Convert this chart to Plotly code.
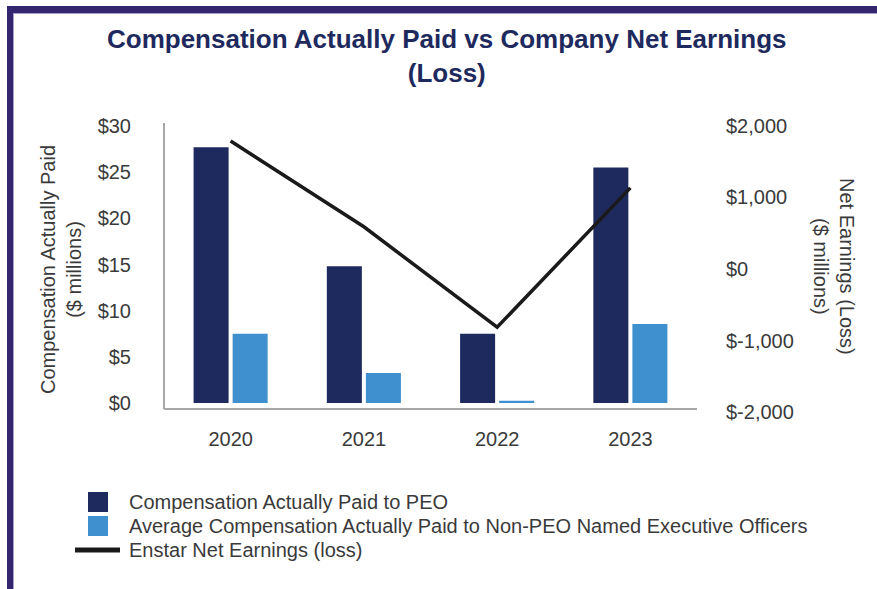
import plotly.graph_objects as go

# Fiscal years and values ($ millions)
years = ["2020", "2021", "2022", "2023"]
cap_peo = [27.7, 14.8, 7.5, 25.5]
cap_neo_avg = [7.5, 3.25, 0.25, 8.55]
net_earnings = [1790, 590, -815, 1135]

left_ticks = [0, 5, 10, 15, 20, 25, 30]
left_tick_text = ["$0", "$5", "$10", "$15", "$20", "$25", "$30"]
right_ticks = [-2000, -1000, 0, 1000, 2000]
right_tick_text = ["$-2,000", "$-1,000", "$0", "$1,000", "$2,000"]

series_names = [
    "Compensation Actually Paid to PEO",
    "Average Compensation Actually Paid to Non-PEO Named Executive Officers",
    "Enstar Net Earnings (loss)",
]

FONT = "Liberation Sans, Arial, Helvetica, sans-serif"
NAVY = "#1e2a5e"
LIGHT_BLUE = "#3f90cf"
LINE = "#1a1a1a"
TEXT = "#3a3a3a"
AXIS = "#a8a8a8"
FRAME = "#34276f"

W, H = 877, 589
L, R, T, B = 164, 180, 123, 176
pw, ph = W - L - R, H - T - B


def px_x(px):
    return (px - L) / pw


def px_y(py):
    return (H - B - py) / ph


fig = go.Figure()

fig.add_trace(go.Bar(
    x=years, y=cap_peo, name=series_names[0],
    marker=dict(color=NAVY, line=dict(width=0)), yaxis="y",
))
fig.add_trace(go.Bar(
    x=years, y=cap_neo_avg, name=series_names[1],
    marker=dict(color=LIGHT_BLUE, line=dict(width=0)), yaxis="y",
))
fig.add_trace(go.Scatter(
    x=years, y=net_earnings, name=series_names[2],
    mode="lines", line=dict(color=LINE, width=3.5), yaxis="y2",
))

shapes = [
    # axis lines
    dict(type="line", xref="paper", yref="paper", x0=0, x1=0,
         y0=px_y(409), y1=px_y(123), line=dict(color=AXIS, width=2)),
    dict(type="line", xref="paper", yref="paper", x0=0, x1=1,
         y0=px_y(409), y1=px_y(409), line=dict(color=AXIS, width=2)),
    # page frame (top and left bands)
    dict(type="rect", xref="paper", yref="paper", x0=px_x(7), x1=px_x(W + 5),
         y0=px_y(13), y1=px_y(6), fillcolor=FRAME, line=dict(width=0)),
    dict(type="rect", xref="paper", yref="paper", x0=px_x(7), x1=px_x(13),
         y0=px_y(H + 5), y1=px_y(6), fillcolor=FRAME, line=dict(width=0)),
    dict(type="line", xref="paper", yref="paper", x0=px_x(13), x1=px_x(W + 5),
         y0=px_y(13.5), y1=px_y(13.5), line=dict(color="#a49fcb", width=1)),
    dict(type="line", xref="paper", yref="paper", x0=px_x(13.5), x1=px_x(13.5),
         y0=px_y(H + 5), y1=px_y(13), line=dict(color="#a49fcb", width=1)),
    # legend swatches
    dict(type="rect", xref="paper", yref="paper", x0=px_x(88), x1=px_x(108),
         y0=px_y(512), y1=px_y(492), fillcolor=NAVY, line=dict(width=0)),
    dict(type="rect", xref="paper", yref="paper", x0=px_x(88), x1=px_x(108),
         y0=px_y(536), y1=px_y(516), fillcolor=LIGHT_BLUE, line=dict(width=0)),
    dict(type="line", xref="paper", yref="paper", x0=px_x(75), x1=px_x(120),
         y0=px_y(550), y1=px_y(550), line=dict(color=LINE, width=5)),
]

annotations = [
    dict(text="<b>Compensation Actually Paid vs Company Net Earnings<br>(Loss)</b>",
         xref="paper", yref="paper", x=px_x(447), y=px_y(56), showarrow=False,
         font=dict(family=FONT, size=26, color=NAVY),
         xanchor="center", yanchor="middle", align="center"),
    dict(text="Compensation Actually Paid<br>($ millions)", xref="paper", yref="paper",
         x=px_x(61), y=px_y(270), textangle=-90, showarrow=False,
         font=dict(family=FONT, size=20, color=TEXT), xanchor="center", yanchor="middle"),
    dict(text="Net Earnings (Loss)<br>($ millions)", xref="paper", yref="paper",
         x=px_x(834), y=px_y(266), textangle=90, showarrow=False,
         font=dict(family=FONT, size=20, color=TEXT), xanchor="center", yanchor="middle"),
]

# legend labels
for name, cy in zip(series_names, [502, 526, 550]):
    annotations.append(dict(
        text=name, xref="paper", yref="paper", x=px_x(127), y=px_y(cy),
        showarrow=False, xanchor="left", yanchor="middle",
        font=dict(family=FONT, size=20, color=TEXT),
    ))

fig.update_layout(
    width=W, height=H,
    margin=dict(l=L, r=R, t=T, b=B, pad=0, autoexpand=False),
    paper_bgcolor="white", plot_bgcolor="white",
    barmode="group", bargap=0.414, bargroupgap=0.103,
    showlegend=False,
    xaxis=dict(
        type="category", range=[-0.5, 3.5], showline=False, showgrid=False,
        ticks="", ticklabelstandoff=12,
        tickfont=dict(family=FONT, size=20, color=TEXT), fixedrange=True,
    ),
    yaxis=dict(
        range=[-(413 - 403) / 9.233, 30 + 3 / 9.233], tickvals=left_ticks,
        ticktext=left_tick_text, showgrid=False, zeroline=False, showline=False,
        ticks="", ticklabelstandoff=32,
        tickfont=dict(family=FONT, size=20, color=TEXT),
    ),
    yaxis2=dict(
        overlaying="y", side="right",
        range=[-2000 - 1 / 0.07175, 2000 + 3 / 0.07175], tickvals=right_ticks,
        ticktext=right_tick_text, showgrid=False, zeroline=False, showline=False,
        ticks="", ticklabelstandoff=28,
        tickfont=dict(family=FONT, size=20, color=TEXT),
    ),
    shapes=shapes,
    annotations=annotations,
)

fig.write_html("out.html")
